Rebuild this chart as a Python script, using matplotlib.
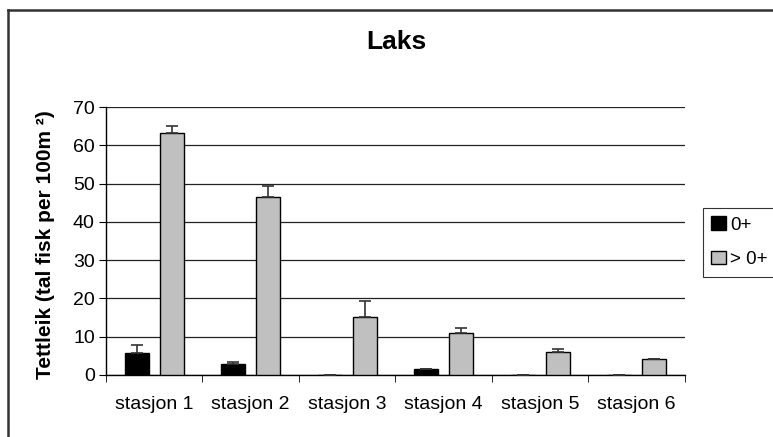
import matplotlib
matplotlib.use("Agg")
import matplotlib.pyplot as plt
from matplotlib.lines import Line2D
import numpy as np

plt.rcParams["font.family"] = ["Liberation Sans", "DejaVu Sans"]

stations = ["stasjon 1", "stasjon 2", "stasjon 3", "stasjon 4", "stasjon 5", "stasjon 6"]
yoy = [5.8, 2.9, 0.0, 1.5, 0.0, 0.0]            # 0+
yoy_err = [2.0, 0.4, 0.0, 0.0, 0.0, 0.0]
older = [63.3, 46.6, 15.2, 10.9, 6.1, 4.1]      # > 0+
older_err = [1.7, 2.8, 4.0, 1.5, 0.6, 0.1]
series_labels = ["0+", "> 0+"]
yticks = [0, 10, 20, 30, 40, 50, 60, 70]

fig = plt.figure(figsize=(7.73, 4.37), dpi=100)
ax = fig.add_axes([0.1371, 0.1419, 0.7490, 0.6132])

x = np.arange(len(stations)) + 0.5
w = 0.25
ekw = dict(ecolor="#333333", elinewidth=1.2, capsize=4, capthick=1.2)
ax.bar(x - 0.18, yoy, w, color="black", edgecolor="black", lw=1,
       yerr=[np.zeros(len(yoy)), yoy_err], error_kw=ekw, label=series_labels[0], zorder=3)
ax.bar(x + 0.18, older, w, color="#c0c0c0", edgecolor="black", lw=1,
       yerr=[np.zeros(len(older)), older_err], error_kw=ekw, label=series_labels[1], zorder=3)

ax.set_xlim(0, len(stations))
ax.set_ylim(0, 70)
ax.set_yticks(yticks)
ax.yaxis.grid(True, color="#222222", lw=0.9)
ax.set_axisbelow(True)
ax.set_xticks(x)
ax.set_xticklabels(stations, fontsize=14)
ax.set_xticks(np.arange(len(stations) + 1), minor=True)
ax.tick_params(axis="x", which="major", length=0, pad=15)
ax.tick_params(axis="x", which="minor", length=5, direction="out")
ax.tick_params(axis="y", length=5, labelsize=14, pad=3)
for s in ["top", "right"]:
    ax.spines[s].set_visible(False)
for s in ["left", "bottom"]:
    ax.spines[s].set_linewidth(1)

ax.set_ylabel("Tettleik (tal fisk per 100m ²)", fontsize=15, fontweight="bold")
ax.yaxis.set_label_coords(-0.088, 0.485)
fig.text(396 / 773, 1 - 42 / 437, "Laks", ha="center", va="center",
         fontsize=19, fontweight="bold")

leg = ax.legend(loc="upper left", bbox_to_anchor=(703 / 773, 1 - 208 / 437),
                bbox_transform=fig.transFigure, fontsize=13.5, frameon=True,
                fancybox=False, edgecolor="black", handlelength=0.75,
                handleheight=0.75, handletextpad=0.25, labelspacing=0.9,
                borderpad=0.45, borderaxespad=0)
leg.get_frame().set_linewidth(0.8)

# outer chart border (left and top only visible)
fig.add_artist(Line2D([8 / 773, 8 / 773], [0, 1 - 10 / 437], color="#333333", lw=1.8))
fig.add_artist(Line2D([8 / 773, 1], [1 - 10 / 437, 1 - 10 / 437], color="#333333", lw=1.8))

fig.savefig("out.png", dpi=100)
